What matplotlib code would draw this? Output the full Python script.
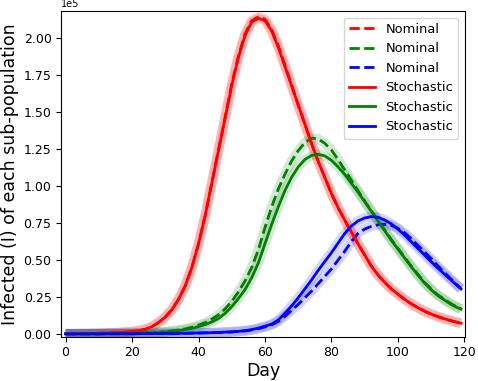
import numpy as np
import matplotlib
matplotlib.use("Agg")
import matplotlib.pyplot as plt

# values, in units of 1e5 infected
days = list(range(0, 119, 2)) + [119]

red_stoch = [0.002, 0.002, 0.003, 0.003, 0.004, 0.005, 0.006, 0.008, 0.010, 0.013,
             0.017, 0.023, 0.032, 0.050, 0.078, 0.115, 0.165, 0.235, 0.325, 0.45,
             0.61, 0.80, 1.02, 1.24, 1.46, 1.68, 1.87, 2.02, 2.11, 2.135,
             2.12, 2.05, 1.94, 1.81, 1.68, 1.55, 1.42, 1.29, 1.17, 1.06,
             0.95, 0.855, 0.77, 0.69, 0.61, 0.535, 0.46, 0.40, 0.35, 0.305,
             0.27, 0.235, 0.205, 0.178, 0.155, 0.135, 0.118, 0.103, 0.09, 0.078, 0.073]
red_nom = [0.002, 0.002, 0.003, 0.003, 0.004, 0.005, 0.006, 0.008, 0.010, 0.013,
           0.017, 0.023, 0.032, 0.050, 0.078, 0.115, 0.165, 0.235, 0.325, 0.45,
           0.61, 0.80, 1.02, 1.245, 1.465, 1.69, 1.88, 2.03, 2.12, 2.145,
           2.13, 2.06, 1.95, 1.82, 1.685, 1.55, 1.42, 1.29, 1.17, 1.06,
           0.95, 0.855, 0.77, 0.69, 0.61, 0.535, 0.46, 0.40, 0.35, 0.305,
           0.27, 0.235, 0.205, 0.178, 0.155, 0.135, 0.118, 0.103, 0.09, 0.078, 0.073]

green_stoch = [0.002, 0.002, 0.002, 0.002, 0.003, 0.003, 0.003, 0.004, 0.004, 0.005,
               0.005, 0.006, 0.007, 0.009, 0.011, 0.014, 0.018, 0.023, 0.030, 0.039,
               0.05, 0.064, 0.082, 0.105, 0.14, 0.185, 0.24, 0.30, 0.38, 0.48,
               0.61, 0.74, 0.86, 0.97, 1.06, 1.13, 1.18, 1.208, 1.216, 1.205,
               1.175, 1.13, 1.08, 1.02, 0.96, 0.895, 0.83, 0.765, 0.70, 0.635,
               0.575, 0.515, 0.455, 0.40, 0.345, 0.30, 0.26, 0.23, 0.20, 0.178, 0.168]
green_nom = [0.002, 0.002, 0.002, 0.002, 0.003, 0.003, 0.003, 0.004, 0.004, 0.005,
             0.006, 0.007, 0.008, 0.010, 0.013, 0.016, 0.021, 0.027, 0.035, 0.046,
             0.06, 0.077, 0.10, 0.13, 0.17, 0.22, 0.285, 0.36, 0.45, 0.57,
             0.72, 0.86, 0.98, 1.08, 1.17, 1.24, 1.295, 1.325, 1.32, 1.29,
             1.245, 1.18, 1.11, 1.04, 0.97, 0.90, 0.835, 0.77, 0.705, 0.64,
             0.58, 0.52, 0.46, 0.405, 0.35, 0.305, 0.265, 0.235, 0.205, 0.18, 0.17]

blue_stoch = [0.001, 0.001, 0.001, 0.001, 0.001, 0.001, 0.002, 0.002, 0.002, 0.002,
              0.002, 0.003, 0.003, 0.003, 0.003, 0.004, 0.004, 0.005, 0.005, 0.006,
              0.007, 0.008, 0.009, 0.011, 0.013, 0.015, 0.018, 0.023, 0.030, 0.040,
              0.053, 0.067, 0.095, 0.14, 0.19, 0.245, 0.305, 0.365, 0.43, 0.49,
              0.55, 0.615, 0.68, 0.73, 0.765, 0.785, 0.794, 0.79, 0.772, 0.745,
              0.71, 0.67, 0.625, 0.58, 0.535, 0.49, 0.447, 0.405, 0.365, 0.325, 0.305]
blue_nom = [0.001, 0.001, 0.001, 0.001, 0.001, 0.001, 0.002, 0.002, 0.002, 0.002,
            0.002, 0.003, 0.003, 0.003, 0.003, 0.004, 0.004, 0.005, 0.005, 0.006,
            0.007, 0.008, 0.009, 0.010, 0.012, 0.014, 0.017, 0.021, 0.027, 0.036,
            0.048, 0.062, 0.085, 0.12, 0.16, 0.20, 0.245, 0.29, 0.34, 0.39,
            0.44, 0.50, 0.56, 0.625, 0.68, 0.71, 0.728, 0.739, 0.742, 0.735,
            0.715, 0.685, 0.645, 0.60, 0.555, 0.51, 0.462, 0.416, 0.372, 0.328, 0.308]

colors = ["red", "green", "blue"]
nominal = [red_nom, green_nom, blue_nom]
stochastic = [red_stoch, green_stoch, blue_stoch]

fig = plt.figure(figsize=(4.78, 3.81), dpi=100)
ax = fig.add_axes([0.1282, 0.1163, 0.8446, 0.8548])

x = np.array(days)
for c, n, s in zip(colors, nominal, stochastic):
    # spread of the runs, shaded around both curves
    ax.plot(x, np.array(n) * 1e5, color=c, linewidth=7, alpha=0.17,
            solid_capstyle="butt")
    ax.plot(x, np.array(s) * 1e5, color=c, linewidth=7, alpha=0.17,
            solid_capstyle="butt")

for c, n in zip(colors, nominal):
    ax.plot(x, np.array(n) * 1e5, color=c, linewidth=2, linestyle="--", label="Nominal")
for c, s in zip(colors, stochastic):
    ax.plot(x, np.array(s) * 1e5, color=c, linewidth=2, label="Stochastic")

ax.set_xlim(-1.3, 120.2)
ax.set_ylim(-0.018e5, 2.185e5)
ax.set_xticks([0, 20, 40, 60, 80, 100, 120])
ax.set_yticks(np.arange(0, 2.01e5, 0.25e5))
ax.ticklabel_format(axis="y", style="sci", scilimits=(0, 0))
ax.yaxis.get_offset_text().set_fontsize(7)
ax.tick_params(labelsize=9)
ax.set_xlabel("Day", fontsize=12.5, labelpad=2)
ax.set_ylabel("Infected (I) of each sub-population", fontsize=12.5, labelpad=3)
ax.legend(loc="upper right", fontsize=9.4)

fig.savefig("out.png", dpi=100)
